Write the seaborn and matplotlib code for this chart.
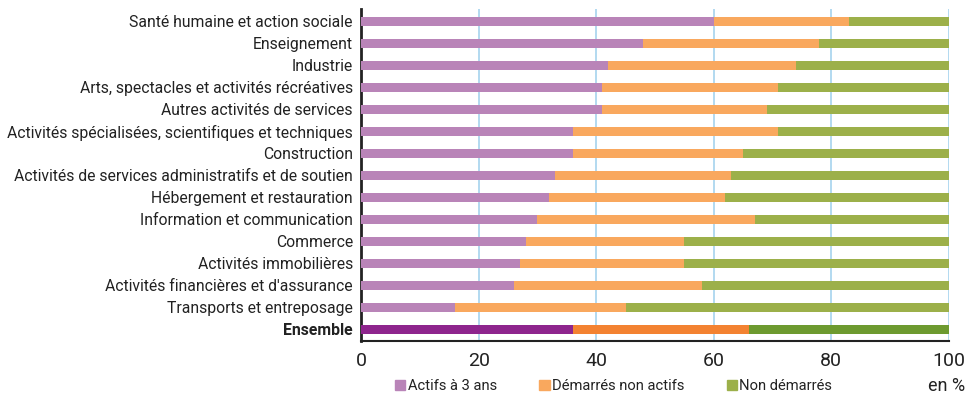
import matplotlib
matplotlib.use("Agg")
import matplotlib.pyplot as plt
import seaborn as sns
import pandas as pd
from matplotlib.patches import Patch

categories = [
    "Santé humaine et action sociale",
    "Enseignement",
    "Industrie",
    "Arts, spectacles et activités récréatives",
    "Autres activités de services",
    "Activités spécialisées, scientifiques et techniques",
    "Construction",
    "Activités de services administratifs et de soutien",
    "Hébergement et restauration",
    "Information et communication",
    "Commerce",
    "Activités immobilières",
    "Activités financières et d'assurance",
    "Transports et entreposage",
    "Ensemble",
]
actifs = [60, 48, 42, 41, 41, 36, 36, 33, 32, 30, 28, 27, 26, 16, 36]
demarres = [23, 30, 32, 30, 28, 35, 29, 30, 30, 37, 27, 28, 32, 29, 30]
non_demarres = [17, 22, 26, 29, 31, 29, 35, 37, 38, 33, 45, 45, 42, 55, 34]
series_names = ["Actifs à 3 ans", "Démarrés non actifs", "Non démarrés"]
xticks = [0, 20, 40, 60, 80, 100]

sns.set_theme(style="white")
plt.rcParams["font.family"] = ["Roboto", "DejaVu Sans"]

df = pd.DataFrame({"cat": categories, "a": actifs, "d": demarres, "n": non_demarres})
df["cum_d"] = df["a"] + df["d"]
df["cum_n"] = df["cum_d"] + df["n"]

light = {"a": "#B984B8", "d": "#F9A85E", "n": "#9CB04A"}
dark = {"a": "#8E258D", "d": "#F38231", "n": "#6D9A2F"}

fig = plt.figure(figsize=(9.71, 3.96), dpi=100)
ax = fig.add_axes([0.372, 0.139, 0.605, 0.838])

for col, key in [("cum_n", "n"), ("cum_d", "d"), ("a", "a")]:
    pal = {c: (dark[key] if c == "Ensemble" else light[key]) for c in categories}
    sns.barplot(data=df, x=col, y="cat", hue="cat", palette=pal, order=categories,
                hue_order=categories, width=0.4, legend=False, ax=ax, saturation=1,
                linewidth=0, zorder=3)

ax.set_xlim(0, 100)
ax.set_ylim(len(categories) - 0.47, -0.55)
ax.set_xticks(xticks)
ax.set_xticklabels([str(t) for t in xticks], fontsize=14, color="#222222")
ax.tick_params(axis="x", length=0, pad=8)
ax.tick_params(axis="y", length=0, pad=6, labelsize=12.5, labelcolor="#222222")
ax.set_xlabel("")
ax.set_ylabel("")
ax.grid(axis="x", color="#A6D3EE", linewidth=1.2, zorder=0)
ax.grid(axis="y", visible=False)
for s in ["top", "right"]:
    ax.spines[s].set_visible(False)
ax.spines["left"].set_color("#222222")
ax.spines["left"].set_linewidth(2)
ax.spines["bottom"].set_color("#222222")
ax.spines["bottom"].set_linewidth(1.5)
for lbl in ax.get_yticklabels():
    if lbl.get_text() == "Ensemble":
        lbl.set_fontweight("bold")

# fit label size so the longest label spans ~347 px as in the reference
fig.canvas.draw()
r = fig.canvas.get_renderer()
widest = max(l.get_window_extent(r).width for l in ax.get_yticklabels())
new_size = 12.5 * 345.0 / widest
for l in ax.get_yticklabels():
    l.set_fontsize(new_size)

handles = [Patch(color=light[k], label=n) for k, n in zip(["a", "d", "n"], series_names)]
fig.legend(handles=handles, loc="center", bbox_to_anchor=(0.632, 0.025), ncol=3,
           frameon=False, fontsize=10.6, handlelength=0.7, handleheight=0.7,
           handletextpad=0.15, columnspacing=2.9, labelcolor="#222222")
fig.text(0.994, 0.025, "en %", ha="right", va="center", fontsize=13, color="#222222")

fig.savefig("out.png", dpi=100)
